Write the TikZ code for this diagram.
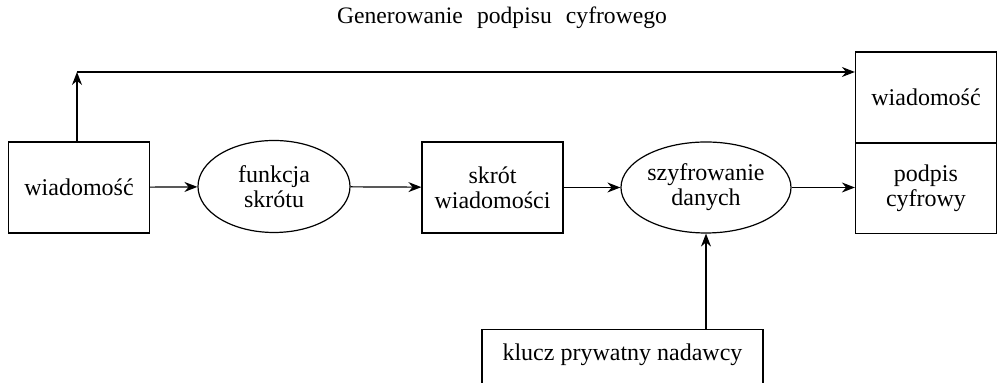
\documentclass[tikz,border=0pt]{standalone}
\usepackage{fontspec}
\setmainfont{Liberation Serif}
\usetikzlibrary{positioning, arrows.meta, shapes.geometric}

\begin{document}
\begin{tikzpicture}[
    x=0.5pt, y=-0.5pt,
    >={Stealth[length=6.5pt, width=5pt]},
    line width=0.6pt,
    box/.style={draw, minimum width=70.5pt, minimum height=45.5pt,
                align=center, font=\fontsize{12}{12.5}\selectfont, inner sep=2pt},
    oval/.style={draw, ellipse, align=center, inner sep=0pt,
                 font=\fontsize{12}{12.5}\selectfont},
    every label/.style={font=\small}
]
\clip (0,0) rectangle (998,383);

%---------------- title ----------------
\node[font=\fontsize{11.8}{13}\selectfont] (title) at (502,18)
    {Generowanie\hspace{0.6em}podpisu\hspace{0.6em}cyfrowego};

%---------------- main chain ----------------
\node[box] (wiad) at (79,187.5) {wiadomość};
\node[oval, minimum width=76pt, minimum height=46pt] (fun) at (274,186.5)
    {funkcja\\skrótu};
\node[box] (skrot) at (492.5,187.5) {skrót\\wiadomości};
\node[oval, minimum width=85pt, minimum height=45.5pt] (szyfr) at (706,187.5)
    {szyfrowanie\\danych};

%---------------- output ----------------
\node[box] (msg) at (926,97.5) {wiadomość};
\node[box] (podpis) at (926,188) {podpis\\cyfrowy};

%---------------- key ----------------
\node[box, anchor=north, minimum width=140.5pt, minimum height=0pt,
      inner sep=0pt, text height=15.5pt, text depth=20pt] (key) at (622.5,329)
    {klucz prywatny nadawcy};

\coordinate (corner) at (77,72);

\draw[->] (wiad) -- (fun);
\draw[->] (fun) -- (skrot);
\draw[->] (skrot) -- (szyfr);
\draw[->] (szyfr) -- (szyfr -| podpis.west);
\draw[->] (szyfr.south |- key.north) -- (szyfr.south);
\draw[->] (wiad.north -| corner) -- (corner);
\draw[->] (corner) -- (corner -| msg.west);

\end{tikzpicture}
\end{document}
